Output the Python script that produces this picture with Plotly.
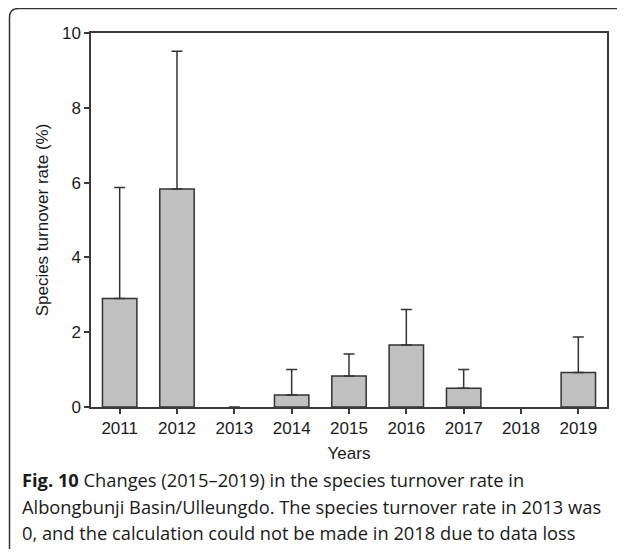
import plotly.graph_objects as go

years = ["2011", "2012", "2013", "2014", "2015", "2016", "2017", "2018", "2019"]
rate = [2.90, 5.83, 0.0, 0.32, 0.83, 1.66, 0.50, None, 0.92]
upper = [5.87, 9.51, 0.0, 1.00, 1.42, 2.61, 1.00, None, 1.87]
y_ticks = [0, 2, 4, 6, 8, 10]
caption_lines = [
    "<b>Fig. 10</b> Changes (2015\u20132019) in the species turnover rate in",
    "Albongbunji Basin/Ulleungdo. The species turnover rate in 2013 was",
    "0, and the calculation could not be made in 2018 due to data loss",
]

def has_err(u, v):
    return u is not None and v is not None and u > v

err_plus = [u - v if has_err(u, v) else None for u, v in zip(upper, rate)]
err_minus = [0 if has_err(u, v) else None for u, v in zip(upper, rate)]
outline_w = [1.5 if (v is not None and v > 0) else 0 for v in rate]

OFF = 8  # page body margin
W, H = 625 - OFF, 557 - 2 * OFF
L, T = 91 - OFF, 33 - OFF
pw, ph = 516, 374.5
R = W - L - pw
B = H - T - ph

def px_x(px):
    return (px - OFF - L) / pw

def px_y(py):
    return (T + ph - (py - OFF)) / ph

axis_col = "#3a3a3a"
txt_col = "#1a1a1a"

fig = go.Figure(
    go.Bar(
        x=years,
        y=rate,
        width=0.6,
        marker=dict(color="#c0c0c0", line=dict(color="#333333", width=outline_w)),
        error_y=dict(
            type="data", symmetric=False, array=err_plus, arrayminus=err_minus,
            color="#333333", thickness=1.5, width=5.5,
        ),
    )
)

fig.update_layout(
    width=W, height=H,
    margin=dict(l=L, r=R, t=T, b=B),
    paper_bgcolor="white", plot_bgcolor="white",
    showlegend=False,
    font=dict(family="Liberation Sans, Arial, sans-serif", size=17, color=txt_col),
)
fig.update_xaxes(
    range=[-0.5, 8.5], showline=True, linecolor=axis_col, linewidth=1.5, mirror=True,
    ticks="outside", ticklen=5, tickwidth=1.5, tickcolor=axis_col, showgrid=False,
    title=dict(text="Years", font=dict(size=17), standoff=10),
)
fig.update_yaxes(
    range=[0, 10], tickvals=y_ticks, showline=True, linecolor=axis_col, linewidth=1.5,
    mirror=True, ticks="outside", ticklen=5, tickwidth=1.5, tickcolor=axis_col,
    showgrid=False, zeroline=False,
    title=dict(text="Species turnover rate (%)", font=dict(size=17), standoff=9),
)

# outer rounded frame
x0, x1, y0, y1, r = 9.5, 660, 8.5, 565, 9
path = (
    f"M {px_x(x0+r)},{px_y(y0)} L {px_x(x1)},{px_y(y0)} "
    f"M {px_x(x0+r)},{px_y(y0)} Q {px_x(x0)},{px_y(y0)} {px_x(x0)},{px_y(y0+r)} "
    f"L {px_x(x0)},{px_y(y1-r)} Q {px_x(x0)},{px_y(y1)} {px_x(x0+r)},{px_y(y1)} "
    f"L {px_x(x1)},{px_y(y1)}"
)
fig.add_shape(type="path", path=path, xref="paper", yref="paper",
              line=dict(color="#333333", width=1.5))

baselines = [490, 516.5, 543]
for line, yb in zip(caption_lines, baselines):
    fig.add_annotation(
        text=line, xref="paper", yref="paper", x=px_x(20), y=px_y(yb + 5),
        xanchor="left", yanchor="bottom", showarrow=False,
        font=dict(family="Open Sans, sans-serif", size=18.3, color=txt_col),
    )

fig.write_html("out.html")
